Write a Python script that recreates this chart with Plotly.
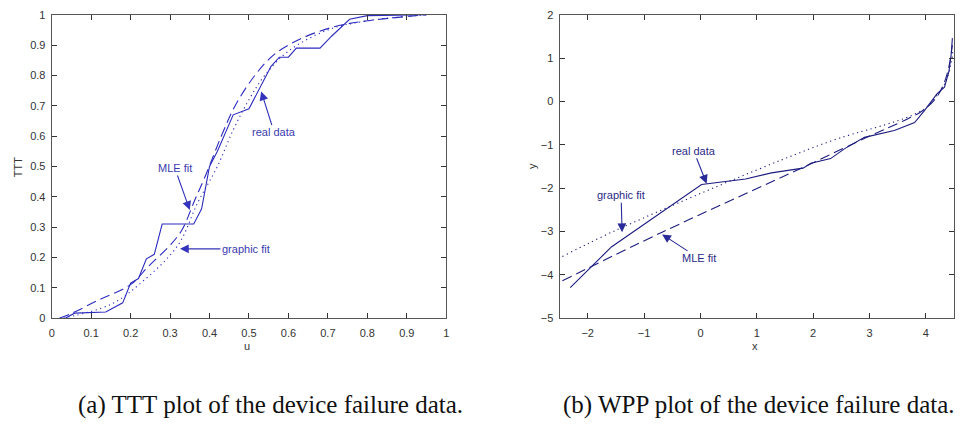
import plotly.graph_objects as go

# ---- (a) TTT plot data ----
ttt_real_u = [0.035, 0.058, 0.137, 0.18, 0.2, 0.22, 0.24, 0.26, 0.28, 0.36, 0.38, 0.4, 0.42, 0.46, 0.5,
              0.556, 0.577, 0.6, 0.62, 0.68, 0.71, 0.755, 0.8, 0.95]
ttt_real_y = [0, 0.016, 0.02, 0.05, 0.115, 0.13, 0.195, 0.21, 0.31, 0.31, 0.36, 0.5, 0.55, 0.67, 0.69,
              0.83, 0.86, 0.86, 0.89, 0.89, 0.93, 0.985, 0.997, 1.0]
ttt_mle_u = [0.02, 0.05, 0.12, 0.2, 0.245, 0.3, 0.33, 0.363, 0.39, 0.43, 0.465, 0.515, 0.565, 0.63, 0.715, 0.8, 0.95]
ttt_mle_y = [0, 0.015, 0.06, 0.11, 0.17, 0.24, 0.29, 0.39, 0.47, 0.6, 0.70, 0.80, 0.87, 0.92, 0.96, 0.98, 1.0]
ttt_gr_u = [0.03, 0.15, 0.23, 0.32, 0.37, 0.42, 0.46, 0.5, 0.54, 0.6, 0.7, 0.8, 0.95]
ttt_gr_y = [0, 0.045, 0.12, 0.24, 0.38, 0.5, 0.62, 0.72, 0.8, 0.88, 0.95, 0.98, 1.0]

# ---- (b) WPP plot data ----
wpp_real_x = [-2.31, -1.58, 0.02, 0.8, 1.26, 1.82, 1.96, 2.31, 2.56, 2.91, 3.44, 3.8, 3.97, 4.2, 4.33, 4.41, 4.45, 4.47]
wpp_real_y = [-4.3, -3.36, -1.92, -1.79, -1.65, -1.54, -1.43, -1.32, -1.09, -0.83, -0.67, -0.49, -0.22, 0.18,
              0.33, 0.7, 1.1, 1.46]
wpp_mle_x = [-2.45, -0.68, 1.86, 3.0, 3.6, 3.9, 4.15, 4.3, 4.4, 4.47]
wpp_mle_y = [-4.14, -3.02, -1.5, -0.8, -0.45, -0.25, 0.03, 0.35, 0.75, 1.3]
wpp_gr_x = [-2.45, -1.39, 2.26, 3.3, 3.7, 4.0, 4.2, 4.35, 4.45, 4.48]
wpp_gr_y = [-3.58, -2.91, -0.94, -0.53, -0.35, -0.15, 0.15, 0.45, 0.9, 1.2]

ttt_ticks = [0, 0.1, 0.2, 0.3, 0.4, 0.5, 0.6, 0.7, 0.8, 0.9, 1]
wpp_xticks = [-2, -1, 0, 1, 2, 3, 4]
wpp_yticks = [-5, -4, -3, -2, -1, 0, 1, 2]

captions = ["(a) TTT plot of the device failure data.", "(b) WPP plot of the device failure data."]

LBLUE = "#2b2bbd"
RBLUE = "#1c1c80"
DASH = "10px,5px"
DOT = "1.2px,3.5px"

fig = go.Figure()
fig.add_trace(go.Scatter(x=ttt_real_u, y=ttt_real_y, mode="lines", line=dict(color=LBLUE, width=1.1),
                         xaxis="x", yaxis="y"))
fig.add_trace(go.Scatter(x=ttt_mle_u, y=ttt_mle_y, mode="lines", line=dict(color=LBLUE, width=1.1, dash=DASH),
                         line_shape="spline", xaxis="x", yaxis="y"))
fig.add_trace(go.Scatter(x=ttt_gr_u, y=ttt_gr_y, mode="lines", line=dict(color=LBLUE, width=1.1, dash=DOT),
                         line_shape="spline", xaxis="x", yaxis="y"))
fig.add_trace(go.Scatter(x=wpp_real_x, y=wpp_real_y, mode="lines", line=dict(color=RBLUE, width=1.1),
                         xaxis="x2", yaxis="y2"))
fig.add_trace(go.Scatter(x=wpp_mle_x, y=wpp_mle_y, mode="lines", line=dict(color=RBLUE, width=1.1, dash=DASH),
                         line_shape="spline", xaxis="x2", yaxis="y2"))
fig.add_trace(go.Scatter(x=wpp_gr_x, y=wpp_gr_y, mode="lines", line=dict(color=RBLUE, width=1.1, dash=DOT),
                         line_shape="spline", xaxis="x2", yaxis="y2"))

tickfont = dict(family="Liberation Sans Narrow, Liberation Sans, Arial", size=11, color="#333333")
axcommon = dict(showgrid=False, zeroline=False, showline=True, linecolor="#555555", linewidth=1,
                mirror="allticks", ticks="inside", ticklen=5, tickcolor="#333333", tickfont=tickfont)

H = 428.0
ydom = [(428 - 321) / H, (428 - 9) / H]
fig.update_layout(
    width=968, height=428, margin=dict(l=0, r=0, t=0, b=0),
    paper_bgcolor="white", plot_bgcolor="white", showlegend=False,
    xaxis=dict(domain=[49 / 968, 446 / 968], range=[0, 1], tickvals=ttt_ticks,
               ticktext=[f"{v:g}" for v in ttt_ticks], anchor="y", ticklabelstandoff=5, **axcommon),
    yaxis=dict(domain=ydom, range=[0, 1], tickvals=ttt_ticks, ticktext=[f"{v:g}" for v in ttt_ticks],
               anchor="x", ticklabelstandoff=3, **axcommon),
    xaxis2=dict(domain=[560 / 968, 957 / 968], range=[-2.5, 4.5], tickvals=wpp_xticks, anchor="y2",
                ticklabelstandoff=5, **axcommon),
    yaxis2=dict(domain=ydom, range=[-5, 2], tickvals=wpp_yticks, anchor="x2", ticklabelstandoff=3, **axcommon),
)

annfont_l = dict(family="Liberation Sans, Arial", size=11, color="#3a3ab0")
annfont_r = dict(family="Liberation Sans, Arial", size=11, color="#2a2a88")
arrow = dict(showarrow=True, arrowhead=2, arrowsize=1.6, arrowwidth=1.1, axref="pixel", ayref="pixel")

anns = [
    dict(x=0.531, y=0.747, xref="x", yref="y", text="real data", ax=13, ay=41, font=annfont_l, arrowcolor="#3333bb"),
    dict(x=0.35, y=0.356, xref="x", yref="y", text="MLE fit", ax=-15, ay=-42, font=annfont_l, arrowcolor="#3333bb"),
    dict(x=0.325, y=0.228, xref="x", yref="y", text="graphic fit", ax=66, ay=0, font=annfont_l, arrowcolor="#3333bb"),
    dict(x=0.11, y=-1.90, xref="x2", yref="y2", text="real data", ax=-13, ay=-33, font=annfont_r, arrowcolor="#2a2a99"),
    dict(x=-1.39, y=-3.02, xref="x2", yref="y2", text="graphic fit", ax=-1, ay=-37, font=annfont_r, arrowcolor="#2a2a99"),
    dict(x=-0.68, y=-3.07, xref="x2", yref="y2", text="MLE fit", ax=37, ay=24, font=annfont_r, arrowcolor="#2a2a99"),
]
for a in anns:
    d = dict(arrow)
    d.update(a)
    fig.add_annotation(**d)

labfont = dict(family="Liberation Sans, Arial", size=11, color="#333333")
center = dict(xref="paper", yref="paper", showarrow=False, xanchor="center", yanchor="middle")
# axis titles
fig.add_annotation(x=246 / 968, y=1 - 350 / H, text="u", font=labfont, **center)
fig.add_annotation(x=15 / 968, y=1 - 166 / H, text="TTT", textangle=-90, font=labfont, **center)
fig.add_annotation(x=757 / 968, y=1 - 350 / H, text="x", font=labfont, **center)
fig.add_annotation(x=533 / 968, y=1 - 165 / H, text="y", textangle=-90, font=labfont, **center)

capfont = dict(family="Liberation Serif, Times New Roman, serif", size=25, color="#111111")
fig.add_annotation(x=269 / 968, y=1 - 410 / H, text=captions[0], font=capfont, **center)
fig.add_annotation(x=761 / 968, y=1 - 410 / H, text=captions[1], font=capfont, **center)

fig.write_html("out.html")
